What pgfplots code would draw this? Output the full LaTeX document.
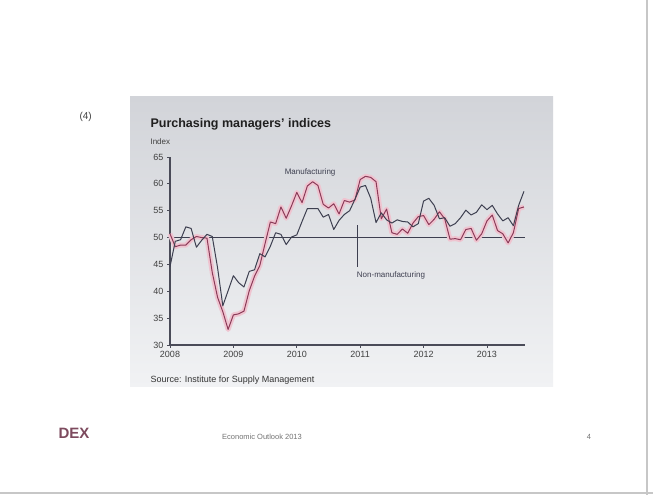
\documentclass[border=0pt]{standalone}
\usepackage{pgfplots}
\pgfplotsset{compat=1.18}
\usepackage{pgfplotstable}
\usepackage{fontspec}
\setmainfont{Liberation Sans}

\definecolor{panelTop}{HTML}{D2D4D9}
\definecolor{panelBot}{HTML}{F1F2F4}
\definecolor{mfgHalo}{HTML}{EFC4D0}
\definecolor{mfgLine}{HTML}{8C3A58}
\definecolor{nmiLine}{HTML}{3D3F50}
\definecolor{axisGray}{HTML}{4A4B58}
\definecolor{logoRed}{HTML}{7D4A5E}

% ISM indices, monthly from Jan 2008 (m = 0) to Aug 2013
\pgfplotstableread{
m mfg nmi
0 50.7 44.6
1 48.3 49.3
2 48.6 49.6
3 48.6 52.0
4 49.6 51.7
5 50.2 48.2
6 50.0 49.5
7 49.9 50.6
8 43.5 50.2
9 38.9 44.4
10 36.2 37.3
11 32.9 40.1
12 35.6 42.9
13 35.8 41.6
14 36.3 40.8
15 40.1 43.7
16 42.8 44.0
17 44.8 47.0
18 48.9 46.4
19 52.9 48.4
20 52.6 50.9
21 55.7 50.6
22 53.6 48.7
23 55.9 50.1
24 58.4 50.5
25 56.5 53.0
26 59.6 55.4
27 60.4 55.4
28 59.7 55.4
29 56.2 53.8
30 55.5 54.3
31 56.3 51.5
32 54.4 53.2
33 56.9 54.3
34 56.6 55.0
35 57.0 57.1
36 60.8 59.4
37 61.4 59.7
38 61.2 57.3
39 60.4 52.8
40 53.5 54.6
41 55.3 53.3
42 50.9 52.7
43 50.6 53.3
44 51.6 53.0
45 50.8 52.9
46 52.7 52.0
47 53.9 52.6
48 54.1 56.8
49 52.4 57.3
50 53.4 56.0
51 54.8 53.5
52 53.5 53.7
53 49.7 52.1
54 49.8 52.6
55 49.6 53.7
56 51.5 55.1
57 51.7 54.2
58 49.5 54.7
59 50.7 56.1
60 53.1 55.2
61 54.2 56.0
62 51.3 54.4
63 50.7 53.1
64 49.0 53.7
65 50.9 52.2
66 55.4 56.0
67 55.7 58.6
}\ismdata

\begin{document}
\begin{tikzpicture}
  \begin{scope}[x=1pt,y=1pt]
    % slide
    \path[use as bounding box] (0,0) rectangle (653,495);
    \fill[white] (0,0) rectangle (653,495);
    \draw[black!22, line width=1.2pt] (647,0) -- (647,495);
    \draw[black!22, line width=1.2pt] (0,2) -- (653,2);

    % chart panel
    \shade[top color=panelTop, bottom color=panelBot] (130,108) rectangle (553,398);

    \node[anchor=west, text=black!75, font=\fontsize{10}{11}\selectfont] at (76,378) {(4)};
    \node[anchor=west, text=black!88, font=\bfseries\fontsize{12.5}{14}\selectfont] at (147,371) {Purchasing managers' indices};
    \node[anchor=west, text=black!75, font=\fontsize{8}{9}\selectfont] at (147,353) {Index};

    \node[anchor=west, text=black!80, font=\fontsize{9}{10}\selectfont] at (147,115) {Source: Institute for Supply Management};

    % footer
    \node[text=logoRed, font=\bfseries\fontsize{15}{16}\selectfont] at (74,62) {DEX};
    \node[text=black!55, font=\fontsize{7.5}{9}\selectfont] at (262,58) {Economic Outlook 2013};
    \node[text=black!55, font=\fontsize{7.5}{9}\selectfont] at (589,58) {4};
  \end{scope}

  \begin{axis}[
    at={(170pt,150pt)}, anchor=south west,
    scale only axis, width=355pt, height=188pt,
    xmin=2008, xmax=2013.6, ymin=30, ymax=65,
    axis x line=bottom, axis y line=left,
    axis line style={axisGray, line width=1.3pt, -},
    xtick={2008,2009,...,2013},
    ytick={30,35,...,65},
    xticklabel style={/pgf/number format/1000 sep={}},
    /pgf/number format/assume math mode=true,
    tick label style={font=\fontsize{9}{10}\selectfont, text=black!75},
    tick style={axisGray, line width=0.8pt},
    major tick length=3pt, tick align=outside,
    clip=false,
  ]
    % 50 = no change
    \addplot[nmiLine, line width=1.6pt] coordinates {(2008,50) (2013.6,50)};
    % manufacturing: pink band with a dark core
    \addplot[mfgHalo, line width=5pt, line join=round]
      table[x expr=2008+\thisrow{m}/12, y=mfg] {\ismdata};
    \addplot[mfgLine, line width=1pt, line join=round]
      table[x expr=2008+\thisrow{m}/12, y=mfg] {\ismdata};
    % non-manufacturing
    \addplot[nmiLine, line width=1pt, line join=round]
      table[x expr=2008+\thisrow{m}/12, y=nmi] {\ismdata};

    \node[text=nmiLine, font=\fontsize{8}{9}\selectfont] at (axis cs:2010.21,62.1) {Manufacturing};
    \draw[nmiLine, line width=0.7pt] (axis cs:2010.95,44.6) -- (axis cs:2010.95,52.3);
    \node[anchor=west, inner sep=1pt, text=nmiLine, font=\fontsize{8}{9}\selectfont] at (axis cs:2010.93,42.9) {Non-manufacturing};
  \end{axis}
\end{tikzpicture}
\end{document}
